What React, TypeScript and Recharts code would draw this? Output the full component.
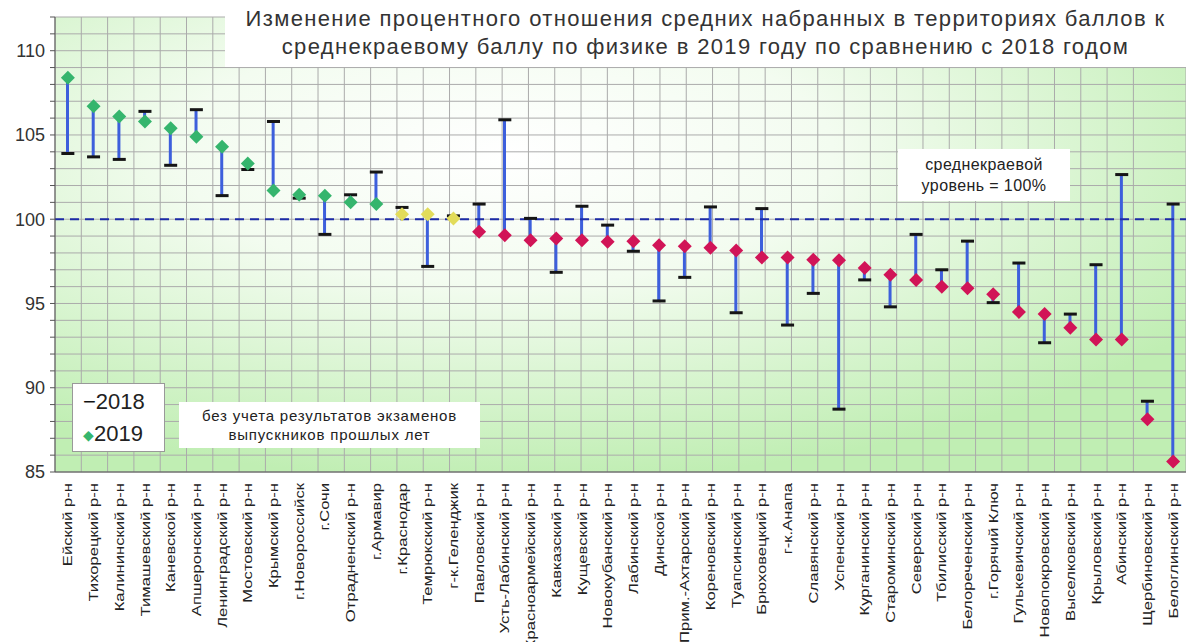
import React from 'react';
import { ComposedChart, Bar, Line, XAxis, YAxis, CartesianGrid, ReferenceLine } from 'recharts';

// territories, in the order shown on the chart
const territories = [
  'Ейский р-н', 'Тихорецкий р-н', 'Калининский р-н', 'Тимашевский р-н', 'Каневской р-н',
  'Апшеронский р-н', 'Ленинградский р-н', 'Мостовский р-н', 'Крымский р-н', 'г.Новороссийск',
  'г.Сочи', 'Отрадненский р-н', 'г.Армавир', 'г.Краснодар', 'Темрюкский р-н',
  'г-к.Геленджик', 'Павловский р-н', 'Усть-Лабинский р-н', 'Красноармейский р-н', 'Кавказский р-н',
  'Кущевский р-н', 'Новокубанский р-н', 'Лабинский р-н', 'Динской р-н', 'Прим.-Ахтарский р-н',
  'Кореновский р-н', 'Туапсинский р-н', 'Брюховецкий р-н', 'г-к.Анапа', 'Славянский р-н',
  'Успенский р-н', 'Курганинский р-н', 'Староминский р-н', 'Северский р-н', 'Тбилисский р-н',
  'Белореченский р-н', 'г.Горячий Ключ', 'Гулькевичский р-н', 'Новопокровский р-н', 'Выселковский р-н',
  'Крыловский р-н', 'Абинский р-н', 'Щербиновский р-н', 'Белоглинский р-н',
];

const values2018 = [
  103.9, 103.7, 103.55, 106.4, 103.2,
  106.5, 101.4, 102.95, 105.8, 101.25,
  99.1, 101.45, 102.8, 100.7, 97.2,
  100.2, 100.9, 105.9, 100.05, 96.85,
  100.77, 99.65, 98.1, 95.15, 96.55,
  100.73, 94.45, 100.63, 93.72, 95.6,
  88.73, 96.4, 94.8, 99.1, 97.0,
  98.7, 95.05, 97.4, 92.67, 94.37,
  97.3, 102.65, 89.2, 100.9,
];

const values2019 = [
  108.4, 106.7, 106.1, 105.8, 105.4,
  104.9, 104.3, 103.3, 101.7, 101.45,
  101.4, 101.0, 100.9, 100.3, 100.3,
  100.05, 99.25, 99.05, 98.75, 98.85,
  98.75, 98.66, 98.7, 98.45, 98.4,
  98.3, 98.15, 97.73, 97.73, 97.6,
  97.57, 97.1, 96.7, 96.4, 96.0,
  95.9, 95.55, 94.5, 94.37, 93.56,
  92.87, 92.87, 88.13, 85.63,
];

const yTicks = [
  85, 86, 87, 88, 89, 90, 91, 92, 93, 94, 95, 96, 97, 98, 99,
  100, 101, 102, 103, 104, 105, 106, 107, 108, 109, 110, 111, 112,
];

// category boundaries for the vertical grid
const gridTicks = [
  0, 1, 2, 3, 4, 5, 6, 7, 8, 9, 10, 11, 12, 13, 14, 15, 16, 17, 18, 19, 20, 21, 22,
  23, 24, 25, 26, 27, 28, 29, 30, 31, 32, 33, 34, 35, 36, 37, 38, 39, 40, 41, 42, 43, 44,
];

const rows = territories.map((name, i) => ({
  name,
  v2018: values2018[i],
  v2019: values2019[i],
  span: [Math.min(values2018[i], values2019[i]), Math.max(values2018[i], values2019[i])],
}));

const GREEN = '#35b56d';
const YELLOW = '#e2dc5a';
const RED = '#d11457';

const colorFor = (v: number) => (v > 100.5 ? GREEN : v >= 100 ? YELLOW : RED);

const FONT = '"Liberation Sans", Arial, sans-serif';

const Dash2018 = (props: any) => {
  const { cx, cy, index } = props;
  if (cx == null || cy == null) return <g key={index} />;
  return <rect key={index} x={cx - 6.5} y={cy - 1.5} width={13} height={3} fill="#151515" />;
};

const Diamond2019 = (props: any) => {
  const { cx, cy, index, payload } = props;
  if (cx == null || cy == null) return <g key={index} />;
  const r = 7;
  return (
    <polygon
      key={index}
      points={`${cx},${cy - r} ${cx + r},${cy} ${cx},${cy + r} ${cx - r},${cy}`}
      fill={colorFor(payload.v2019)}
    />
  );
};

// labels read bottom-to-top and are stretched along the text, as in the source picture
const CategoryTick = (props: any) => {
  const { x, y, payload } = props;
  const ty = y + 3;
  return (
    <text
      x={0}
      y={0}
      transform={`translate(${x} ${ty}) rotate(-90) scale(1.28 1)`}
      textAnchor="end"
      dy="0.35em"
      fontSize={13}
      fill="#222"
      fontFamily={FONT}
    >
      {payload.value}
    </text>
  );
};

const boxStyle: React.CSSProperties = {
  position: 'absolute',
  background: '#fff',
  textAlign: 'center',
  color: '#222',
};

export default function App() {
  return (
    <div style={{ position: 'absolute', left: 0, top: 0, width: 1186, height: 642, overflow: 'hidden', background: '#fff', fontFamily: FONT }}>
      <ComposedChart width={1186} height={642} data={rows} margin={{ top: 17, right: 0, bottom: 0, left: 0 }}>
        <defs>
          <radialGradient id="plotBg" cx="0.4" cy="0.3" r="0.72">
            <stop offset="0" stopColor="#ffffff" />
            <stop offset="0.4" stopColor="#f3fcf0" />
            <stop offset="1" stopColor="#c0eeb3" />
          </radialGradient>
        </defs>
        <CartesianGrid xAxisId="grid" stroke="#ababab" strokeWidth={1} fill="url(#plotBg)" fillOpacity={1} />
        <XAxis xAxisId="grid" type="number" domain={[0, 44]} ticks={gridTicks} hide />
        <XAxis
          dataKey="name"
          interval={0}
          height={170}
          tick={<CategoryTick />}
          tickLine={false}
          axisLine={{ stroke: '#555' }}
        />
        <YAxis
          domain={[85, 112]}
          ticks={yTicks}
          interval={0}
          width={55}
          tickFormatter={(v: number) => (v % 5 === 0 ? String(v) : '')}
          tick={{ fontSize: 18, fill: '#333', fontFamily: FONT }}
          tickSize={5}
          tickMargin={5}
          tickLine={{ stroke: '#555' }}
          axisLine={{ stroke: '#555' }}
        />
        <ReferenceLine y={100} stroke="#1c2ba6" strokeWidth={2} strokeDasharray="9 6" />
        <Bar dataKey="span" barSize={3} fill="#3d5fdc" isAnimationActive={false} />
        <Line dataKey="v2018" stroke="none" dot={<Dash2018 />} activeDot={false} isAnimationActive={false} />
        <Line dataKey="v2019" stroke="none" dot={<Diamond2019 />} activeDot={false} isAnimationActive={false} />
      </ComposedChart>

      <div style={{ ...boxStyle, left: 225, top: 0, width: 961, height: 67, fontSize: 22, letterSpacing: 1.35, lineHeight: '28px', paddingTop: 5, boxSizing: 'border-box', color: '#333' }}>
        <div>Изменение процентного отношения средних набранных в территориях баллов к</div>
        <div>среднекраевому баллу по физике в 2019 году по сравнению с 2018 годом</div>
      </div>

      <div style={{ ...boxStyle, left: 898, top: 149, width: 172, height: 52, fontSize: 16, letterSpacing: 0.4, lineHeight: '21px', paddingTop: 5, boxSizing: 'border-box' }}>
        <div>среднекраевой</div>
        <div>уровень = 100%</div>
      </div>

      <div style={{ ...boxStyle, left: 179, top: 402, width: 301, height: 46, fontSize: 15, letterSpacing: 0.8, lineHeight: '19px', paddingTop: 4, boxSizing: 'border-box' }}>
        <div>без учета результатов экзаменов</div>
        <div>выпускников прошлых лет</div>
      </div>

      <div style={{ ...boxStyle, left: 72, top: 383, width: 93, height: 69, border: '1px solid #999', boxSizing: 'border-box', fontSize: 22, lineHeight: '32px', paddingTop: 2, textAlign: 'left', paddingLeft: 10 }}>
        <div><span style={{ color: '#111' }}>−</span>2018</div>
        <div><span style={{ color: GREEN, fontSize: 14, verticalAlign: 'middle' }}>◆</span>2019</div>
      </div>
    </div>
  );
}
